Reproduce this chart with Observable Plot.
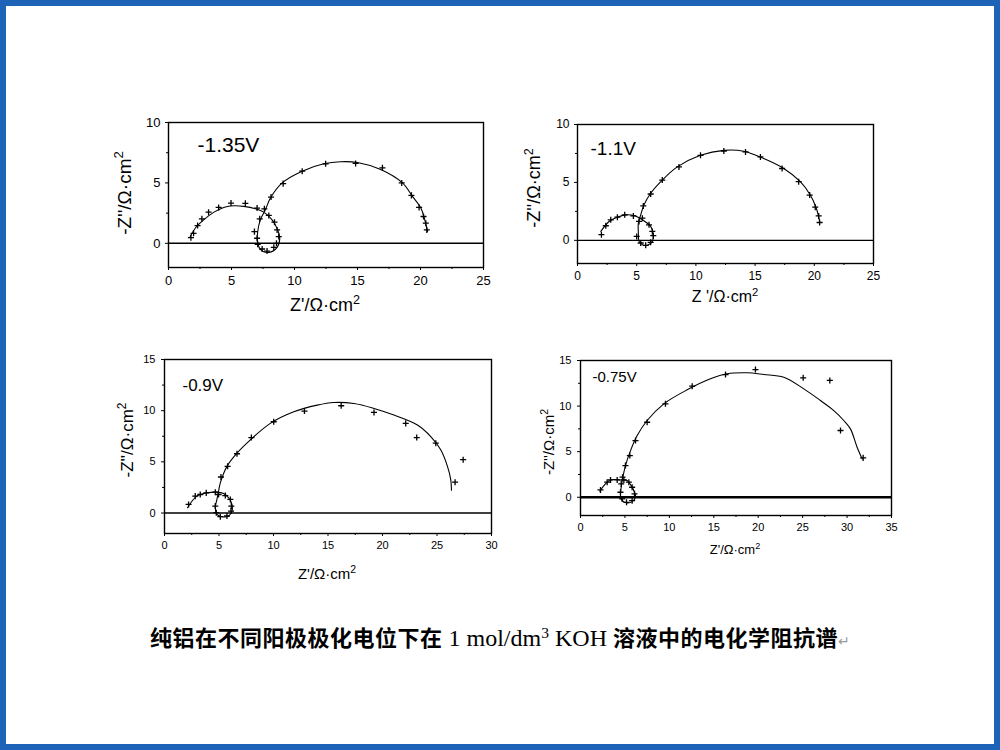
<!DOCTYPE html>
<html>
<head>
<meta charset="utf-8">
<script src="https://cdn.jsdelivr.net/npm/d3@7"></script>
<script src="https://cdn.jsdelivr.net/npm/@observablehq/plot@0.6"></script>
<style>
  html, body { margin: 0; padding: 0; background: #fff; }
  #page { position: relative; width: 1000px; height: 750px; overflow: hidden; background: #fff; font-family: "Liberation Sans", Arial, sans-serif; }
  #border { position: absolute; left: 0; top: 0; width: 1000px; height: 750px; box-sizing: border-box; border: 6px solid #1d63b7; pointer-events: none; }
  .panel { position: absolute; }
  .axlabel { position: absolute; white-space: nowrap; color: #000; font-family: "Liberation Sans", Arial, sans-serif; line-height: 1; }
  .axlabel sup { font-size: 0.7em; vertical-align: 0.55em; line-height: 0; }
  #caption { position: absolute; left: 150px; top: 623px; white-space: nowrap; font-size: 22px; line-height: 26px; letter-spacing: 0.5px; color: #000; font-family: "Noto Sans CJK SC", sans-serif; font-weight: 700; }
  #caption .lat { font-family: "Liberation Serif", "Times New Roman", serif; font-weight: 400; font-size: 24px; letter-spacing: 0; }
  #caption .mark { color: #999; font-weight: 400; font-size: 14px; font-family: "DejaVu Sans", sans-serif; }
</style>
</head>
<body>
<div id="page"></div>
<script>
// ---------- data ----------
// Panel -1.35 V
const fit135 = [[1.72,0.56],[2.12,1.25],[2.79,1.94],[3.58,2.56],[4.38,2.97],[5.17,3.11],[5.97,3.06],[6.90,2.86],[7.56,2.58],[8.22,1.94],[8.67,1.11],[8.83,0.42],[8.62,-0.33],[7.96,-0.75],[7.35,-0.56],[7.08,0.0],[7.08,0.97],[7.29,1.94],[7.69,2.78],[8.09,3.75],[9.02,5.0],[10.61,5.97],[12.33,6.58],[13.66,6.75],[14.99,6.69],[16.84,6.11],[18.57,5.0],[19.36,3.89],[20.03,2.92],[20.34,1.94],[20.56,0.97]];
const pts135 = [[1.78,0.47],[1.99,0.83],[2.31,1.47],[2.65,2.03],[3.18,2.58],[3.98,2.97],[4.96,3.33],[6.10,3.31],[7.03,2.92],[7.61,2.86],[7.96,2.31],[8.41,1.75],[8.62,1.11],[8.75,0.56],[8.57,0.0],[8.36,-0.33],[7.82,-0.64],[7.43,-0.47],[7.08,-0.08],[7.03,0.42],[6.82,0.97],[7.24,2.03],[8.14,3.83],[9.10,4.94],[10.61,5.97],[12.47,6.58],[14.85,6.61],[16.98,6.25],[18.51,5.0],[19.28,3.97],[19.89,2.97],[20.24,2.22],[20.42,1.67],[20.50,1.11]];
// Panel -1.1 V
const fit110 = [[1.97,0.77],[2.67,1.63],[3.37,2.0],[4.07,2.2],[4.78,2.14],[5.48,1.77],[6.18,1.2],[6.40,0.49],[6.32,-0.09],[5.90,-0.43],[5.48,-0.37],[5.20,-0.09],[5.14,0.63],[5.14,1.49],[5.34,2.2],[5.62,3.06],[6.18,4.06],[7.16,5.2],[8.43,6.34],[10.39,7.34],[12.36,7.77],[14.04,7.69],[15.73,7.06],[17.42,6.2],[18.82,5.06],[19.66,3.91],[20.17,2.77],[20.45,1.63]];
const pts110 = [[2.02,0.49],[2.39,1.26],[2.81,1.77],[3.37,2.0],[3.99,2.2],[4.72,2.11],[5.48,1.91],[6.04,1.34],[6.32,0.77],[6.40,0.4],[6.18,-0.17],[5.76,-0.43],[5.34,-0.23],[5.0,0.34],[5.20,1.63],[5.56,2.97],[6.18,4.0],[7.16,5.2],[8.57,6.34],[10.39,7.34],[12.36,7.71],[14.19,7.63],[15.45,7.2],[17.28,6.2],[18.68,5.06],[19.61,3.91],[20.08,2.86],[20.37,2.11],[20.45,1.54]];
// Panel -0.9 V
const fit090 = [[2.11,0.52],[2.97,1.65],[3.89,1.97],[4.81,2.04],[5.42,1.91],[5.88,1.49],[6.19,0.84],[6.19,0.19],[5.88,-0.29],[5.27,-0.36],[4.81,-0.13],[4.66,0.52],[4.81,1.33],[4.96,2.13],[5.12,2.94],[5.73,4.56],[6.65,5.85],[7.88,7.15],[9.71,8.76],[11.86,9.89],[14.01,10.54],[15.54,10.80],[17.38,10.70],[19.22,10.22],[21.05,9.57],[23.20,8.60],[24.43,7.47],[25.34,6.18],[25.96,4.56],[26.26,3.27],[26.33,2.23]];
const pts090 = [[2.21,0.84],[2.82,1.65],[3.28,1.81],[3.83,1.97],[4.66,2.04],[5.58,1.71],[6.04,1.33],[6.13,0.68],[6.10,0.19],[5.73,-0.29],[5.12,-0.36],[4.75,0.03],[4.66,0.68],[4.96,1.81],[5.18,3.52],[5.79,4.56],[6.65,5.79],[7.97,7.37],[10.02,8.92],[12.84,9.96],[16.21,10.48],[19.22,9.83],[22.13,8.76],[23.14,7.37],[24.89,6.82],[26.66,3.01],[27.40,5.21]];
// Panel -0.75 V
const fit075 = [[2.18,0.66],[2.81,1.46],[3.38,1.90],[4.50,1.90],[5.25,1.83],[5.70,1.28],[6.08,0.55],[6.19,0.0],[5.81,-0.48],[5.25,-0.62],[4.69,-0.37],[4.50,0.18],[4.58,1.10],[4.73,2.01],[5.06,3.48],[5.63,5.12],[6.38,6.77],[7.50,8.42],[9.38,10.25],[12.0,11.78],[14.63,12.99],[16.50,13.54],[18.75,13.65],[20.63,13.47],[22.88,13.17],[25.13,11.89],[27.01,10.61],[28.51,9.51],[29.63,8.42],[30.38,7.50],[31.13,5.49],[31.70,4.21]];
const pts075 = [[2.25,0.80],[3.0,1.65],[3.38,1.90],[4.13,1.90],[4.88,1.90],[5.44,1.65],[5.81,1.10],[6.08,0.37],[5.81,-0.37],[5.18,-0.55],[4.69,-0.18],[4.50,0.55],[4.58,1.46],[4.73,2.20],[5.06,3.48],[5.55,4.57],[6.19,6.22],[7.50,8.23],[9.56,10.25],[12.57,12.18],[16.32,13.46],[19.69,14.01],[25.06,13.10],[28.06,12.81],[29.26,7.32],[31.81,4.32]];

// tick values
const xTicks25 = [0, 5, 10, 15, 20, 25];
const xTicks30 = [0, 5, 10, 15, 20, 25, 30];
const xTicks35 = [0, 5, 10, 15, 20, 25, 30, 35];
const yTicks10 = [0, 5, 10];
const yTicks15 = [0, 5, 10, 15];

// labels
const potentials = ["-1.35V", "-1.1V", "-0.9V", "-0.75V"];
const xTitles = ["Z'/Ω·cm", "Z '/Ω·cm", "Z'/Ω·cm", "Z'/Ω·cm"];
const yTitle = "-Z''/Ω·cm";
const captionCJK1 = "纯铝在不同阳极极化电位下在";
const captionLatin = " 1 mol/dm";
const captionLatin2 = " KOH ";
const captionCJK2 = "溶液中的电化学阻抗谱";

// ---------- layout ----------
const panels = [
  {fit: fit135, pts: pts135, name: potentials[0], xTicks: xTicks25, yTicks: yTicks10, xDomain: [0,25], yDomain: [-2,10],
   left: 110, top: 100, mL: 58, mT: 22, fw: 315, fh: 145, tickFont: 13, xPad: 5, yPad: 5, zeroW: 1.5,
   ann: {dx: 29, dy: 23, size: 21}, xt: {cx: 325, cy: 305, size: 18, text: xTitles[0]}, yt: {cx: 124, cy: 193, size: 19}},
  {fit: fit110, pts: pts110, name: potentials[1], xTicks: xTicks25, yTicks: yTicks10, xDomain: [0,25], yDomain: [-2,10],
   left: 520, top: 100, mL: 57, mT: 24, fw: 296, fh: 139, tickFont: 12, xPad: 5, yPad: 5, zeroW: 1.4,
   ann: {dx: 13, dy: 24, size: 19}, xt: {cx: 725, cy: 297, size: 16, text: xTitles[1]}, yt: {cx: 534, cy: 188, size: 18}},
  {fit: fit090, pts: pts090, name: potentials[2], xTicks: xTicks30, yTicks: yTicks15, xDomain: [0,30], yDomain: [-2,15],
   left: 110, top: 340, mL: 54, mT: 19, fw: 327, fh: 174, tickFont: 11, xPad: 5, yPad: 6, zeroW: 1.4,
   ann: {dx: 18, dy: 26, size: 17}, xt: {cx: 327, cy: 573, size: 15, text: xTitles[2]}, yt: {cx: 127, cy: 440, size: 17}},
  {fit: fit075, pts: pts075, name: potentials[3], xTicks: xTicks35, yTicks: yTicks15, xDomain: [0,35], yDomain: [-2,15],
   left: 520, top: 340, mL: 60, mT: 20, fw: 311, fh: 155, tickFont: 11, xPad: 5, yPad: 6, zeroW: 2.4,
   ann: {dx: 12, dy: 17, size: 15}, xt: {cx: 735, cy: 549, size: 13, text: xTitles[3]}, yt: {cx: 548, cy: 442, size: 15}}
];

const page = document.getElementById("page");

function minorOf(ticks) {
  const out = [];
  for (let i = 0; i < ticks.length - 1; i++) out.push((ticks[i] + ticks[i + 1]) / 2);
  return out;
}

for (const p of panels) {
  const mR = 12, mB = 28;
  const chart = Plot.plot({
    width: p.mL + p.fw + mR,
    height: p.mT + p.fh + mB,
    marginLeft: p.mL, marginTop: p.mT, marginRight: mR, marginBottom: mB,
    x: {domain: p.xDomain},
    y: {domain: p.yDomain},
    style: {fontFamily: "'Liberation Sans', Arial, sans-serif", fontSize: p.tickFont + "px", color: "#000", background: "transparent", overflow: "visible"},
    marks: [
      Plot.ruleY([0], {stroke: "#000", strokeWidth: p.zeroW}),
      Plot.frame({stroke: "#000", strokeWidth: 1.4}),
      Plot.axisX({ticks: p.xTicks, tickSize: 3, tickPadding: p.xPad, label: null, fontSize: p.tickFont}),
      Plot.axisX({ticks: minorOf(p.xTicks), tickSize: 2, tickFormat: () => "", label: null}),
      Plot.axisY({ticks: p.yTicks, tickSize: 3, tickPadding: p.yPad, label: null, fontSize: p.tickFont}),
      Plot.axisY({ticks: minorOf(p.yTicks), tickSize: 2, tickFormat: () => "", label: null}),
      Plot.line(p.fit, {x: d => d[0], y: d => d[1], curve: "catmull-rom", stroke: "#000", strokeWidth: 1.1}),
      Plot.dot(p.pts, {x: d => d[0], y: d => d[1], symbol: "plus", r: 2.1, stroke: "#000", strokeWidth: 1.3}),
      Plot.text([p.name], {frameAnchor: "top-left", dx: p.ann.dx, dy: p.ann.dy, textAnchor: "start", lineAnchor: "middle", fontSize: p.ann.size, fill: "#000"})
    ]
  });
  const wrap = document.createElement("div");
  wrap.className = "panel";
  wrap.style.left = p.left + "px";
  wrap.style.top = p.top + "px";
  wrap.appendChild(chart);
  page.appendChild(wrap);

  const xl = document.createElement("div");
  xl.className = "axlabel";
  xl.style.fontSize = p.xt.size + "px";
  xl.style.left = p.xt.cx + "px";
  xl.style.top = p.xt.cy + "px";
  xl.style.transform = "translate(-50%, -50%)";
  xl.innerHTML = p.xt.text + "<sup>2</sup>";
  page.appendChild(xl);

  const yl = document.createElement("div");
  yl.className = "axlabel";
  yl.style.fontSize = p.yt.size + "px";
  yl.style.left = p.yt.cx + "px";
  yl.style.top = p.yt.cy + "px";
  yl.style.transform = "translate(-50%, -50%) rotate(-90deg)";
  yl.innerHTML = yTitle + "<sup>2</sup>";
  page.appendChild(yl);
}

const cap = document.createElement("div");
cap.id = "caption";
cap.innerHTML = captionCJK1 + '<span class="lat">' + captionLatin + '<sup style="font-size:0.65em;vertical-align:0.5em;line-height:0">3</sup>' + captionLatin2 + '</span>' + captionCJK2 + '<span class="mark">↵</span>';
page.appendChild(cap);

const border = document.createElement("div");
border.id = "border";
page.appendChild(border);
</script>
</body>
</html>
